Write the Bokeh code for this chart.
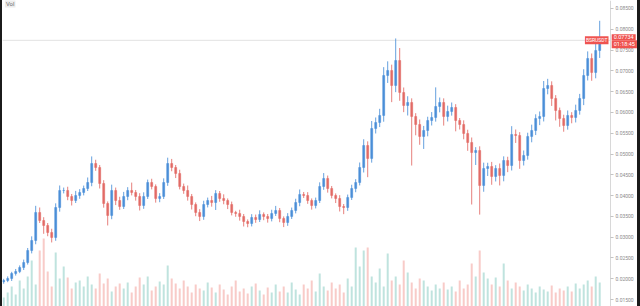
from bokeh.plotting import figure
from bokeh.models import Range1d, FixedTicker, PrintfTickFormatter, Label, Spacer
from bokeh.layouts import row
from bokeh.embed import file_html
from bokeh.resources import INLINE

# ---- data ----
first_open = 0.01930
closes = [
    0.01958, 0.02007, 0.02127, 0.02175, 0.02271, 0.02391, 0.02680, 0.02920, 0.03594, 0.03401,
    0.03281, 0.03113, 0.02993, 0.03714, 0.04123, 0.04123, 0.03979, 0.03882, 0.04003, 0.04075,
    0.04171, 0.04315, 0.04772, 0.04676, 0.04291, 0.03810, 0.03522, 0.04123, 0.03882, 0.03738,
    0.03979, 0.04123, 0.04075, 0.03979, 0.03762, 0.03979, 0.04315, 0.04219, 0.03931, 0.03979,
    0.04315, 0.04772, 0.04676, 0.04532, 0.04219, 0.04123, 0.03979, 0.03786, 0.03594, 0.03498,
    0.03786, 0.03882, 0.03834, 0.04051, 0.03931, 0.03882, 0.03786, 0.03594, 0.03570, 0.03498,
    0.03377, 0.03329, 0.03474, 0.03425, 0.03546, 0.03498, 0.03450, 0.03570, 0.03642, 0.03450,
    0.03353, 0.03498, 0.03642, 0.03834, 0.04027, 0.04003, 0.03882, 0.03762, 0.03882, 0.04219,
    0.04412, 0.04171, 0.04003, 0.03931, 0.03738, 0.03714, 0.03955, 0.04171, 0.04315, 0.04676,
    0.05205, 0.04893, 0.05614, 0.05758, 0.05927, 0.06889, 0.07009, 0.06648, 0.07249, 0.06480,
    0.06167, 0.06239, 0.05903, 0.05710, 0.05422, 0.05566, 0.05806, 0.05879, 0.06143, 0.06239,
    0.05903, 0.06023, 0.06119, 0.05806, 0.05710, 0.05494, 0.05277, 0.05036, 0.05085, 0.04243,
    0.04652, 0.04700, 0.04460, 0.04652, 0.04484, 0.04844, 0.04724, 0.05470, 0.05446, 0.04844,
    0.04965, 0.05422, 0.05566, 0.05855, 0.05903, 0.06576, 0.06648, 0.06336, 0.06047, 0.05855,
    0.05686, 0.05927, 0.05879, 0.06047, 0.06336, 0.06889, 0.07298, 0.06961, 0.07490, 0.07734,
]
upper_wick = [
    0.0004, 0.0005, 0.0004, 0.0006, 0.0005, 0.0007, 0.0006, 0.0010, 0.0016, 0.0012,
    0.0008, 0.0006, 0.0009, 0.0010, 0.0012, 0.0007, 0.0009, 0.0006, 0.0011, 0.0008,
    0.0007, 0.0012, 0.0017, 0.0009, 0.0006, 0.0008, 0.0005, 0.0014, 0.0007, 0.0009,
    0.0011, 0.0008, 0.0019, 0.0006, 0.0008, 0.0010, 0.0007, 0.0009, 0.0005, 0.0008,
    0.0010, 0.0014, 0.0011, 0.0006, 0.0009, 0.0007, 0.0012, 0.0006, 0.0005, 0.0008,
    0.0009, 0.0007, 0.0011, 0.0008, 0.0006, 0.0010, 0.0005, 0.0007, 0.0004, 0.0009,
    0.0006, 0.0005, 0.0008, 0.0007, 0.0010, 0.0005, 0.0006, 0.0009, 0.0011, 0.0006,
    0.0005, 0.0008, 0.0007, 0.0009, 0.0012, 0.0006, 0.0008, 0.0005, 0.0007, 0.0010,
    0.0013, 0.0007, 0.0006, 0.0005, 0.0008, 0.0006, 0.0007, 0.0009, 0.0008, 0.0012,
    0.0015, 0.0010, 0.0018, 0.0012, 0.0016, 0.0020, 0.0022, 0.0014, 0.0053, 0.0030,
    0.0012, 0.0015, 0.0010, 0.0008, 0.0012, 0.0011, 0.0009, 0.0013, 0.0046, 0.0012,
    0.0010, 0.0014, 0.0012, 0.0008, 0.0006, 0.0010, 0.0009, 0.0012, 0.0008, 0.0010,
    0.0014, 0.0009, 0.0011, 0.0008, 0.0012, 0.0010, 0.0009, 0.0020, 0.0012, 0.0008,
    0.0012, 0.0009, 0.0014, 0.0010, 0.0012, 0.0018, 0.0016, 0.0010, 0.0008, 0.0007,
    0.0009, 0.0012, 0.0008, 0.0014, 0.0011, 0.0015, 0.0017, 0.0012, 0.0030, 0.0047,
]
lower_wick = [
    0.0005, 0.0004, 0.0006, 0.0005, 0.0004, 0.0006, 0.0005, 0.0007, 0.0009, 0.0006,
    0.0020, 0.0009, 0.0012, 0.0008, 0.0010, 0.0007, 0.0009, 0.0012, 0.0006, 0.0008,
    0.0007, 0.0006, 0.0009, 0.0008, 0.0012, 0.0010, 0.0024, 0.0009, 0.0011, 0.0008,
    0.0006, 0.0009, 0.0007, 0.0010, 0.0012, 0.0008, 0.0006, 0.0007, 0.0010, 0.0009,
    0.0006, 0.0008, 0.0009, 0.0011, 0.0007, 0.0008, 0.0010, 0.0012, 0.0009, 0.0011,
    0.0008, 0.0007, 0.0010, 0.0018, 0.0008, 0.0009, 0.0011, 0.0007, 0.0008, 0.0010,
    0.0012, 0.0009, 0.0007, 0.0008, 0.0006, 0.0009, 0.0010, 0.0007, 0.0006, 0.0009,
    0.0011, 0.0008, 0.0006, 0.0007, 0.0009, 0.0006, 0.0008, 0.0010, 0.0007, 0.0006,
    0.0008, 0.0010, 0.0007, 0.0011, 0.0012, 0.0016, 0.0008, 0.0006, 0.0009, 0.0007,
    0.0012, 0.0045, 0.0010, 0.0012, 0.0011, 0.0015, 0.0018, 0.0040, 0.0016, 0.0020,
    0.0016, 0.0024, 0.0118, 0.0026, 0.0020, 0.0030, 0.0014, 0.0012, 0.0010, 0.0014,
    0.0022, 0.0012, 0.0010, 0.0026, 0.0012, 0.0014, 0.0020, 0.0125, 0.0030, 0.0070,
    0.0015, 0.0018, 0.0020, 0.0012, 0.0024, 0.0014, 0.0016, 0.0012, 0.0018, 0.0020,
    0.0012, 0.0010, 0.0014, 0.0011, 0.0016, 0.0012, 0.0014, 0.0018, 0.0024, 0.0020,
    0.0015, 0.0010, 0.0014, 0.0012, 0.0010, 0.0016, 0.0012, 0.0020, 0.0014, 0.0018,
]
volumes = [
    9, 14, 20, 12, 26, 18, 30, 46, 22, 56,
    68, 35, 20, 54, 28, 40, 29, 18, 24, 26,
    20, 30, 22, 18, 33, 23, 28, 15, 20, 23,
    18, 24, 14, 20, 29, 22, 30, 16, 20, 25,
    22, 41, 28, 23, 18, 26, 20, 14, 22, 18,
    16, 24, 19, 14, 22, 17, 12, 20, 26, 15,
    18, 13, 20, 23, 16, 12, 19, 14, 22, 15,
    20, 14, 24, 17, 12, 22, 18, 26, 15, 33,
    20, 16, 24, 18, 22, 14, 28, 20, 59, 40,
    56, 59, 30, 24, 38, 20, 53, 26, 30, 22,
    46, 34, 24, 18, 28, 26, 20, 16, 22, 18,
    24, 17, 20, 15, 26, 18, 22, 43, 30, 56,
    34, 28, 22, 29, 20, 43, 26, 18, 24, 20,
    16, 22, 18, 14, 20, 17, 15, 21, 14, 18,
    16, 20, 15, 23, 18, 22, 26, 20, 30, 24,
]
price_ticks = [0.015, 0.020, 0.025, 0.030, 0.035, 0.040, 0.045, 0.050,
               0.055, 0.060, 0.065, 0.070, 0.075, 0.080, 0.085]
symbol_text = "BSRUSDT"
last_price_text = "0.07734"
countdown_text = "01:18:45"
volume_title = "Vol"

# ---- derived candle structure ----
opens = [first_open] + closes[:-1]
idx = list(range(len(closes)))
highs = [max(o, c) + u for o, c, u in zip(opens, closes, upper_wick)]
lows = [min(o, c) - w for o, c, w in zip(opens, closes, lower_wick)]
tops = [max(o, c) for o, c in zip(opens, closes)]
bots = [min(o, c) for o, c in zip(opens, closes)]
UP, DOWN = "#4a8fd8", "#e36b66"
VUP, VDOWN = "#bfe3de", "#f8cbc8"
is_up = [c >= o for o, c in zip(opens, closes)]
ccol = [UP if u else DOWN for u in is_up]
vcol = [VUP if u else VDOWN for u in is_up]

# x layout: 4 px per candle, frame spans the whole figure, price axis pinned inside
X_START = -0.3
X_END = X_START + 635 / 4
AXIS_X = X_START + 608 / 4

p = figure(width=635, height=306,
           x_range=Range1d(X_START, X_END), y_range=Range1d(0.01333, 0.08692),
           y_axis_location="right", output_backend="svg", toolbar_location=None,
           min_border_left=0, min_border_right=0, min_border_top=0, min_border_bottom=0,
           background_fill_color="white", border_fill_color="white",
           outline_line_color=None)
p.extra_y_ranges = {"vol": Range1d(0, 306)}

p.xaxis.visible = False
p.grid.visible = False

ax = p.yaxis[0]
ax.fixed_location = AXIS_X
ax.ticker = FixedTicker(ticks=price_ticks)
ax.formatter = PrintfTickFormatter(format="%.5f")
ax.major_label_text_font = "Roboto"
ax.major_label_text_font_size = "5px"
ax.major_label_text_color = "#8c8c8c"
ax.axis_line_color = "#d8d8d8"
ax.major_tick_line_color = "#c4c4c4"
ax.major_tick_out = 3
ax.major_tick_in = 0
ax.minor_tick_out = 0
ax.minor_tick_in = 0
ax.major_label_standoff = 2

# volume
p.vbar(x=idx, top=volumes, bottom=0, width=0.5, fill_color=vcol, line_color=None,
       y_range_name="vol")

# last price line (from chart start to the price axis)
p.segment(x0=[X_START], x1=[AXIS_X], y0=[closes[-1]], y1=[closes[-1]],
          line_color="#e2e2e2", line_width=1)

# candles
p.segment(x0=idx, y0=lows, x1=idx, y1=highs, line_color=ccol, line_width=1, line_alpha=0.85)
p.vbar(x=idx, top=tops, bottom=bots, width=0.5, fill_color=ccol, line_color=ccol, line_width=0.5)

# labels
p.add_layout(Label(x=AXIS_X - 0.5, y=closes[-1], text=symbol_text, text_align="right",
                   text_baseline="middle", text_font_size="5px", text_color="white",
                   text_font="Roboto", background_fill_color="#ef5350", padding=1))
p.add_layout(Label(x=AXIS_X + 0.3, y=closes[-1], y_offset=3, text=last_price_text,
                   text_align="left", text_baseline="middle", text_font_size="5.5px",
                   text_color="white", text_font="Roboto",
                   background_fill_color="#ef5350", padding=(2, 1)))
p.add_layout(Label(x=AXIS_X + 0.3, y=closes[-1], y_offset=-4, text=countdown_text,
                   text_align="left", text_baseline="middle", text_font_size="5.5px",
                   text_color="white", text_font="Roboto",
                   background_fill_color="#ef5350", padding=(2, 1)))
p.add_layout(Label(x=0.3, y=0.08692, y_offset=2, text=volume_title, text_align="left",
                   text_baseline="top", text_font_size="6px", text_color="#6f6f6f",
                   text_font="Roboto", background_fill_color="#ececec", padding=1))

left_edge = Spacer(width=2, height=306, styles={"background-color": "#1b1b1b"})
right_edge = Spacer(width=3, height=306, styles={"background-color": "#1b1b1b"})
page = row(left_edge, p, right_edge)

open("out.html", "w").write(file_html(page, INLINE))
